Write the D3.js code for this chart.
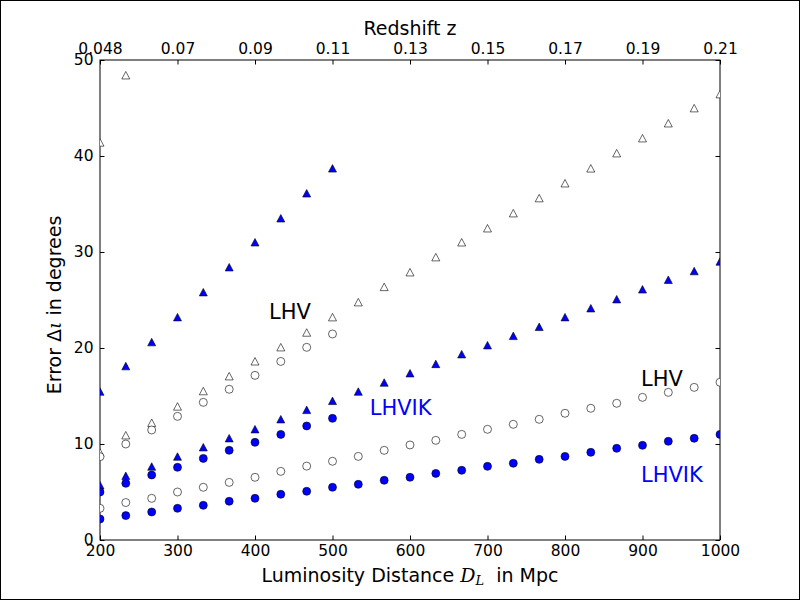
<!DOCTYPE html>
<html>
<head>
<meta charset="utf-8">
<script src="https://cdn.jsdelivr.net/npm/d3@7"></script>
<style>
  body { margin: 0; background: #fff; }
  svg { display: block; font-family: "DejaVu Sans", sans-serif; }
  .axis path, .axis line { stroke: #000; }
  .axis text { font-size: 15.5px; fill: #000; font-family: "DejaVu Sans", sans-serif; }
</style>
</head>
<body>
<div id="chart"></div>
<script>
// Section 1: data
// ======================================

// luminosity distances in Mpc (25 steps from 200 to 1000)
var distances = [200, 233.3, 266.7, 300, 333.3, 366.7, 400, 433.3, 466.7, 500,
  533.3, 566.7, 600, 633.3, 666.7, 700, 733.3, 766.7, 800, 833.3,
  866.7, 900, 933.3, 966.7, 1000];

// top axis labels (redshift)
var zLabels = ["0.048", "0.07", "0.09", "0.11", "0.13", "0.15", "0.17", "0.19", "0.21"];

var yTicks = [0, 10, 20, 30, 40, 50];
var xTicks = [200, 300, 400, 500, 600, 700, 800, 900, 1000];

// steep group (left labels)
var lhvSteep = [41.4, 48.4];
var lhvikSteep = [15.45, 18.1, 20.6, 23.2, 25.8, 28.4, 31.0, 33.5, 36.1, 38.7];
var lhvSteepCirc = [8.68, 10.0, 11.46, 12.88, 14.34, 15.7, 17.15, 18.6, 20.07, 21.46];
var lhvikSteepCirc = [5.0, 5.9, 6.77, 7.57, 8.5, 9.34, 10.17, 11.0, 11.88, 12.67];

// flat group (right labels)
var lhvFlat = [9.1, 10.9, 12.2, 13.9, 15.5, 17.05, 18.6, 20.07, 21.6, 23.2,
  24.76, 26.35, 27.88, 29.45, 31.0, 32.46, 34.03, 35.6, 37.15, 38.7,
  40.28, 41.84, 43.4, 44.97, 46.43];
var lhvikFlat = [5.7, 6.67, 7.64, 8.68, 9.65, 10.59, 11.53, 12.57, 13.54, 14.48,
  15.45, 16.39, 17.36, 18.33, 19.34, 20.28, 21.25, 22.19, 23.2, 24.13,
  25.07, 26.1, 27.1, 28.0, 29.0];
var lhvFlatCirc = [3.3, 3.9, 4.34, 5.0, 5.49, 6.0, 6.53, 7.15, 7.7, 8.2,
  8.71, 9.34, 9.9, 10.38, 11.0, 11.53, 12.05, 12.57, 13.2, 13.72,
  14.24, 14.86, 15.38, 15.9, 16.43];
var lhvikFlatCirc = [2.19, 2.54, 2.92, 3.3, 3.61, 4.03, 4.34, 4.76, 5.07, 5.49,
  5.8, 6.22, 6.53, 6.94, 7.26, 7.67, 7.99, 8.4, 8.71, 9.13,
  9.55, 9.86, 10.28, 10.59, 11.0];

// Section 2: canvas
// =================
var width = 800;
var height = 600;
var margin = { top: 60, right: 80, bottom: 60, left: 100 };
var plotW = width - margin.left - margin.right;
var plotH = height - margin.top - margin.bottom;

var svg = d3.select("#chart")
  .append("svg")
  .attr("width", width)
  .attr("height", height);

// figure edge
svg.append("rect")
  .attr("x", 0.5).attr("y", 0.5)
  .attr("width", width - 1).attr("height", height - 1)
  .attr("fill", "#fff").attr("stroke", "#000");

var g = svg.append("g")
  .attr("transform", "translate(" + margin.left + "," + margin.top + ")");

g.append("clipPath").attr("id", "plotClip")
  .append("rect").attr("width", plotW).attr("height", plotH);

var x = d3.scaleLinear().domain([200, 1000]).range([0, plotW]);
var y = d3.scaleLinear().domain([0, 50]).range([plotH, 0]);
var zScale = d3.scalePoint().domain(zLabels).range([0, plotW]);

// Section 3: axes
// ===============
var tickLen = 4.5;

g.append("g").attr("class", "axis")
  .attr("transform", "translate(0," + plotH + ")")
  .call(d3.axisBottom(x).tickValues(xTicks).tickSize(-tickLen).tickPadding(5).tickFormat(d3.format("d")));

g.append("g").attr("class", "axis")
  .call(d3.axisLeft(y).tickValues(yTicks).tickSize(-tickLen).tickPadding(6.5).tickFormat(d3.format("d")));

g.append("g").attr("class", "axis")
  .attr("transform", "translate(" + plotW + ",0)")
  .call(d3.axisRight(y).tickValues(yTicks).tickSize(-tickLen).tickFormat(""));

g.append("g").attr("class", "axis")
  .call(d3.axisTop(zScale).tickSize(-tickLen).tickPadding(6.5));

g.selectAll(".axis .domain").remove();

// frame
g.append("rect")
  .attr("width", plotW).attr("height", plotH)
  .attr("fill", "none").attr("stroke", "#000").attr("stroke-width", 1);

// axis titles
svg.append("text")
  .attr("x", margin.left + plotW / 2)
  .attr("y", 35)
  .attr("text-anchor", "middle")
  .attr("font-size", "19px")
  .text("Redshift z");

var xTitle = svg.append("text")
  .attr("x", margin.left + plotW / 2)
  .attr("y", 582)
  .attr("text-anchor", "middle")
  .attr("font-size", "19px");
xTitle.append("tspan").text("Luminosity Distance ");
xTitle.append("tspan").attr("font-family", "DejaVu Serif").attr("font-style", "italic").text("D");
xTitle.append("tspan").attr("font-family", "DejaVu Serif").attr("font-style", "italic")
  .attr("font-size", "13px").attr("dy", 3).text("L");
xTitle.append("tspan").attr("dy", -3).text("\u00a0 in Mpc");

var yTitle = svg.append("text")
  .attr("transform", "translate(61," + (margin.top + plotH / 2 + 5) + ")rotate(-90)")
  .attr("text-anchor", "middle")
  .attr("font-size", "19px");
yTitle.append("tspan").text("Error \u0394");
yTitle.append("tspan").attr("font-family", "DejaVu Serif").attr("font-style", "italic").text("\u03b9");
yTitle.append("tspan").text(" in degrees");

// Section 4: markers
// ==================
var plot = g.append("g").attr("clip-path", "url(#plotClip)");

function pairs(vals) {
  return vals.map(function(v, i) { return { d: distances[i], v: v }; });
}

var triPath = "M0,-3.9L4,3.6L-4,3.6Z";

function drawTriangles(vals, fill) {
  plot.append("g").selectAll("path")
    .data(pairs(vals))
    .enter().append("path")
    .attr("d", triPath)
    .attr("transform", function(p) { return "translate(" + x(p.d) + "," + y(p.v) + ")"; })
    .attr("fill", fill)
    .attr("stroke", "#000")
    .attr("stroke-width", 0.6);
}

function drawCircles(vals, fill) {
  plot.append("g").selectAll("circle")
    .data(pairs(vals))
    .enter().append("circle")
    .attr("cx", function(p) { return x(p.d); })
    .attr("cy", function(p) { return y(p.v); })
    .attr("r", 4)
    .attr("fill", fill)
    .attr("stroke", "#000")
    .attr("stroke-width", 0.6);
}

drawTriangles(lhvSteep, "#fff");
drawTriangles(lhvFlat, "#fff");
drawTriangles(lhvikSteep, "#0000ff");
drawTriangles(lhvikFlat, "#0000ff");
drawCircles(lhvSteepCirc, "#fff");
drawCircles(lhvFlatCirc, "#fff");
drawCircles(lhvikSteepCirc, "#0000ff");
drawCircles(lhvikFlatCirc, "#0000ff");

// Section 5: curve labels
// =======================
function label(dx, vy, txt, color) {
  g.append("text")
    .attr("x", x(dx))
    .attr("y", y(vy))
    .attr("font-size", "21px")
    .attr("fill", color)
    .text(txt);
}
label(418, 23, "LHV", "#000");
label(548, 13, "LHVIK", "#0000ff");
label(898, 16, "LHV", "#000");
label(898, 6, "LHVIK", "#0000ff");
</script>
</body>
</html>
